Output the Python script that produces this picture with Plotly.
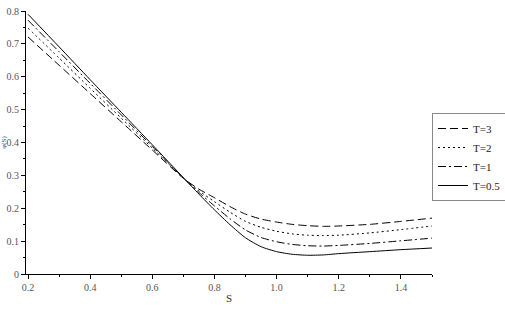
import plotly.graph_objects as go

S = [0.2, 0.3, 0.4, 0.5, 0.6, 0.7, 0.75, 0.8, 0.85, 0.9, 0.95, 1.0, 1.05, 1.1, 1.15, 1.2, 1.3, 1.4, 1.5]
T3 = [0.721, 0.635, 0.549, 0.463, 0.377, 0.291, 0.258, 0.232, 0.205, 0.182, 0.167, 0.158, 0.151, 0.147, 0.145, 0.146, 0.151, 0.160, 0.170]
T2 = [0.748, 0.657, 0.565, 0.474, 0.383, 0.292, 0.253, 0.220, 0.188, 0.160, 0.142, 0.130, 0.122, 0.118, 0.117, 0.118, 0.125, 0.135, 0.146]
T1 = [0.772, 0.676, 0.580, 0.484, 0.388, 0.292, 0.248, 0.207, 0.168, 0.134, 0.111, 0.098, 0.090, 0.086, 0.085, 0.087, 0.093, 0.101, 0.109]
T05 = [0.790, 0.691, 0.591, 0.492, 0.393, 0.293, 0.243, 0.195, 0.150, 0.110, 0.083, 0.068, 0.060, 0.057, 0.058, 0.062, 0.068, 0.074, 0.079]

series = [("T=3", T3, "8px,4px"), ("T=2", T2, "2px,3px"), ("T=1", T1, "8px,3px,2px,3px"), ("T=0.5", T05, "solid")]

x_ticks = [0.2, 0.4, 0.6, 0.8, 1.0, 1.2, 1.4]
x_labels = ["0.2", "0.4", "0.6", "0.8", "1.0", "1.2", "1.4"]
y_ticks = [0, 0.1, 0.2, 0.3, 0.4, 0.5, 0.6, 0.7, 0.8]
y_labels = ["0", "0.1", "0.2", "0.3", "0.4", "0.5", "0.6", "0.7", "0.8"]

fig = go.Figure()
for name, ys, dash in series:
    fig.add_trace(go.Scatter(x=S, y=ys, mode="lines", name=name,
                             line=dict(color="black", width=1, dash=dash, shape="spline", smoothing=0.6)))

serif = "Liberation Serif, Times New Roman, serif"
tickfont = dict(family=serif, size=10, color="#555555")
fig.update_layout(
    width=505, height=310,
    margin=dict(l=26, r=73, t=11, b=36),
    plot_bgcolor="white", paper_bgcolor="white",
    font=dict(family=serif),
    showlegend=True,
    legend=dict(xref="container", yref="container", x=432 / 505, xanchor="left",
                y=1 - 113 / 310, yanchor="top",
                bordercolor="#888888", borderwidth=1, bgcolor="white",
                font=dict(family=serif, size=11, color="#222222"),
                tracegroupgap=0, itemwidth=30),
    xaxis=dict(range=[0.1935, 1.5], showgrid=False, zeroline=False, automargin=False,
               showline=True, linecolor="black", linewidth=1,
               ticks="outside", ticklen=4, tickcolor="black",
               tickvals=x_ticks, ticktext=x_labels, tickfont=tickfont,
               minor=dict(ticks="outside", ticklen=2, tickcolor="black", dtick=0.1, tick0=0.2),
               title=dict(text="S", font=dict(family=serif, size=11, color="#333333"), standoff=2)),
    yaxis=dict(range=[0, 0.8], showgrid=False, zeroline=False, automargin=False,
               showline=True, linecolor="black", linewidth=1,
               ticks="outside", ticklen=4, tickcolor="black",
               tickvals=y_ticks, ticktext=y_labels, tickfont=tickfont,
               minor=dict(ticks="outside", ticklen=2, tickcolor="black", dtick=0.05, tick0=0),
               title=dict(text="φ(S)", font=dict(family=serif, size=7, color="#334477"), standoff=0)),
)

fig.write_html("out.html")
